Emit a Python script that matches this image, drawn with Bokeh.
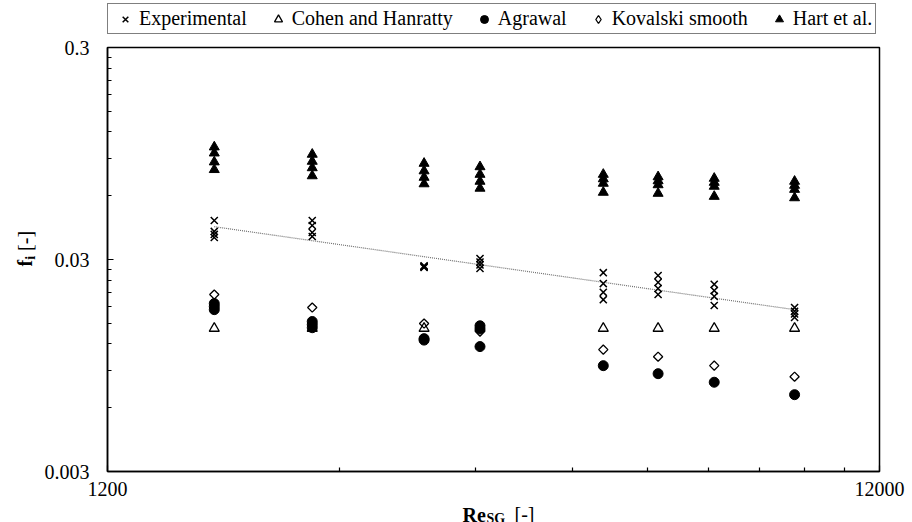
import numpy as np
from bokeh.plotting import figure
from bokeh.layouts import row, column
from bokeh.models import (Range1d, FixedTicker, CustomJSTickFormatter, Legend,
                          LegendItem, Label)
from bokeh.embed import file_html
from bokeh.resources import INLINE

# ---------------- data ----------------
re_sg = [1650, 2210, 3085, 3645, 5265, 6200, 7330, 9315]

f_experimental = [
    [0.0458, 0.0407, 0.0394, 0.0381],
    [0.0458, 0.0434, 0.0402, 0.0385],
    [0.0280, 0.0278, 0.0277, 0.0275],
    [0.0303, 0.0292, 0.0283, 0.0272],
    [0.0260, 0.0231, 0.0210, 0.0194],
    [0.0252, 0.0234, 0.0219, 0.0205],
    [0.0229, 0.0214, 0.0201, 0.0182],
    [0.0178, 0.0171, 0.0166, 0.0160],
]
f_cohen = [0.0142, 0.0142, 0.0142, 0.0142, 0.0142, 0.0142, 0.0142, 0.0142]
f_agrawal = [
    [0.0186, 0.0180, 0.0174],
    [0.0153, 0.0148, 0.0143],
    [0.0127, 0.0125],
    [0.0146, 0.0141, 0.01165],
    [0.00947],
    [0.00868],
    [0.00791],
    [0.00691],
]
f_kovalski = [
    [0.0205],
    [0.0178],
    [0.01496],
    [0.01371],
    [0.01127],
    [0.01044],
    [0.00947],
    [0.00840],
]
f_hart = [
    [0.1018, 0.0953, 0.0865, 0.0796],
    [0.0940, 0.0871, 0.0812, 0.0744],
    [0.0852, 0.0785, 0.0732, 0.0682],
    [0.0821, 0.0756, 0.0701, 0.0650],
    [0.0756, 0.0720, 0.0686, 0.0622],
    [0.0736, 0.0705, 0.0675, 0.0615],
    [0.0724, 0.0693, 0.0664, 0.0595],
    [0.0701, 0.0671, 0.0642, 0.0586],
]

x_major_ticks = [1200, 12000]
x_minor_ticks = [2400, 3600, 4800, 6000, 7200, 8400, 9600, 10800]
y_major_ticks = [0.003, 0.03, 0.3]
y_minor_ticks = [0.006, 0.009, 0.012, 0.015, 0.018, 0.021, 0.024, 0.027,
                 0.06, 0.09, 0.12, 0.15, 0.18, 0.21, 0.24, 0.27]

series_names = ["Experimental", "Cohen and Hanratty", "Agrawal",
                "Kovalski smooth", "Hart et al."]
series_data = [f_experimental, f_cohen, f_agrawal, f_kovalski, f_hart]


def flatten(groups):
    xs, ys = [], []
    for x, g in zip(re_sg, groups):
        if not isinstance(g, (list, tuple)):
            g = [g]
        for v in g:
            xs.append(x)
            ys.append(v)
    return xs, ys


FONT = "Liberation Serif"
W = 912
YT_W = 40            # strip holding the y-axis title
LEG_H = 35           # strip holding the legend
XT_H = 17            # strip holding the x-axis title
MAIN_H = 522 - LEG_H - XT_H
FL, FR, FT, FB = 107, 879, 47, 471   # frame edges on the page

STYLES = {
    "Experimental": dict(marker="x", size=10, line_color="black", line_width=1.5),
    "Cohen and Hanratty": dict(marker="triangle", size=10, line_color="black",
                               line_width=1.3, fill_alpha=0),
    "Agrawal": dict(marker="circle", size=10, line_color="black", fill_color="black"),
    "Kovalski smooth": dict(marker="square", angle=np.pi / 4, size=6.5,
                            line_color="black", line_width=1.3, fill_alpha=0),
    "Hart et al.": dict(marker="triangle", size=10, line_color="black",
                        fill_color="black"),
}

# ---------------- main chart ----------------
p = figure(width=W - YT_W, height=MAIN_H, x_axis_type="log", y_axis_type="log",
           x_range=Range1d(1200, 12000), y_range=Range1d(0.003, 0.3),
           output_backend="svg", toolbar_location=None, title=None,
           min_border_left=FL - YT_W, min_border_right=W - FR,
           min_border_top=FT - LEG_H,
           min_border_bottom=(LEG_H + MAIN_H) - FB,
           background_fill_color="white", border_fill_color="white")

p.xgrid.visible = False
p.ygrid.visible = False
p.outline_line_color = "black"
p.outline_line_width = 1.5

p.xaxis.ticker = FixedTicker(ticks=x_major_ticks, minor_ticks=x_minor_ticks)
p.yaxis.ticker = FixedTicker(ticks=y_major_ticks, minor_ticks=y_minor_ticks)
for ax in (p.xaxis[0], p.yaxis[0]):
    ax.formatter = CustomJSTickFormatter(code="return tick.toString();")
    ax.axis_line_color = "black"
    ax.axis_line_width = 1.5
    ax.major_tick_line_color = "black"
    ax.minor_tick_line_color = "black"
    ax.major_tick_line_width = 1.2
    ax.minor_tick_line_width = 1.2
    ax.major_tick_in = 6
    ax.major_tick_out = 0
    ax.minor_tick_in = 4
    ax.minor_tick_out = 0
    ax.major_label_text_font = FONT
    ax.major_label_text_font_size = "20px"
    ax.major_label_text_color = "black"
p.xaxis.major_label_standoff = 10
p.yaxis.major_label_standoff = 18

# trendline (power-law fit of the experimental data)
ex, ey = flatten(f_experimental)
b, a = np.polyfit(np.log10(ex), np.log10(ey), 1)
tx = np.array([min(re_sg), max(re_sg)], dtype=float)
ty = 10 ** (a + b * np.log10(tx))
p.line(tx, ty, line_color="#707070", line_dash="1 1", line_width=1.2)

for name, groups in zip(series_names, series_data):
    xs, ys = flatten(groups)
    p.scatter(xs, ys, **STYLES[name])


# ---------------- strips (legend and axis titles) ----------------
def strip(w, h, xr, yr):
    f = figure(width=w, height=h, x_range=Range1d(*xr), y_range=Range1d(*yr),
               output_backend="svg", toolbar_location=None, title=None,
               x_axis_location=None, y_axis_location=None,
               min_border=0, outline_line_color=None,
               background_fill_color="white", border_fill_color="white")
    f.grid.visible = False
    return f


def add_text(fig, txt, x, y, size, bold=False, angle=0.0):
    fig.add_layout(Label(x=x, y=y, text=txt, text_font=FONT,
                         text_font_size=size,
                         text_font_style="bold" if bold else "normal",
                         text_color="black", text_baseline="middle",
                         text_align="left", angle=angle))


# legend strip (its frame is aligned with the chart frame by the column)
lg = strip(W - YT_W, LEG_H, (0, 1), (0, 1))
items = []
for name, groups in zip(series_names, series_data):
    st = dict(STYLES[name])
    if name == "Kovalski smooth":
        st.update(marker="diamond", angle=0.0, size=10)
    xs, ys = flatten(groups)      # lies outside this strip's range: not drawn
    r = lg.scatter(xs, ys, **st)
    items.append(LegendItem(label=name, renderers=[r]))
legend = Legend(items=items, orientation="horizontal",
                location=(0, LEG_H - 34), margin=0,
                label_text_font=FONT, label_text_font_size="20px",
                label_text_color="black",
                glyph_width=28, glyph_height=20, label_height=20,
                label_standoff=0, spacing=17, padding=3,
                border_line_color="black", border_line_width=1.2,
                background_fill_color="white", background_fill_alpha=1)
lg.add_layout(legend)

# y-axis title "f_i [-]" reading upward; x = page px, y = 522 - page px
yt = strip(YT_W, 522, (0, YT_W), (0, 522))
add_text(yt, "f", 24.5, 522 - 266, "20px", bold=True, angle=np.pi / 2)
add_text(yt, "i", 29.5, 522 - 259.3, "14px", bold=True, angle=np.pi / 2)
add_text(yt, "[-]", 24.5, 522 - 250.4, "20px", angle=np.pi / 2)

# x-axis title "Re_SG [-]"; x = page px, y = 522 - page px
xt = strip(W - YT_W, XT_H, (FL, FR), (0, XT_H))
add_text(xt, "Re", 462, 522 - 514, "20px", bold=True)
add_text(xt, "SG", 486, 522 - 518, "14px", bold=True)
add_text(xt, "[-]", 514, 522 - 513.5, "20px")

layout = row(yt, column(lg, p, xt, spacing=0), spacing=0)

open("out.html", "w").write(file_html(layout, INLINE))
